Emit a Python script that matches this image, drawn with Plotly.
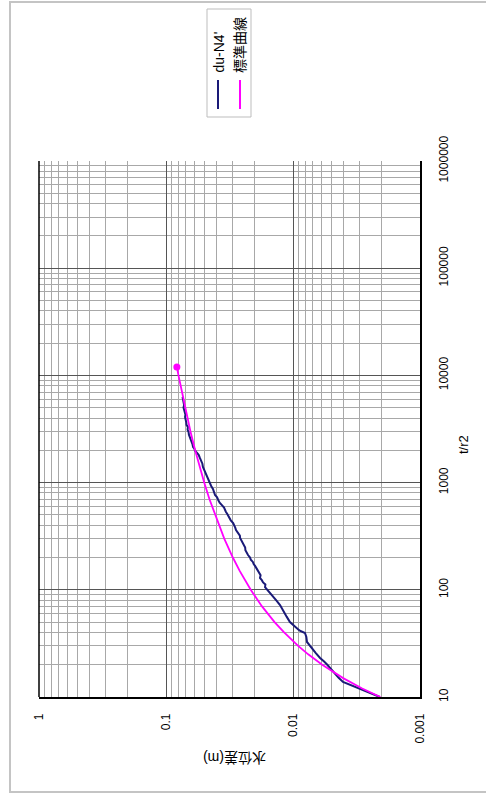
import plotly.graph_objects as go

# ---------------- data ----------------
# observed curve du-N4' : t/r2 and drawdown (m)
obs_t = [10.0, 10.7, 11.4, 11.9, 12.6, 13.2, 13.8, 15.1, 16.4, 17.9, 20.0, 21.4, 23.1,
         25.7, 28.8, 32.6, 36.3, 39.5, 41.7, 44.7, 50.1, 56.2, 63.1, 72.1, 79.4, 87.1,
         93.3, 106, 112, 117, 123, 129, 137, 145, 152, 160, 167, 174, 182, 191, 200,
         211, 222, 234, 248, 263, 282, 304, 320, 339, 360, 380, 400, 420, 445, 468,
         490, 513, 535, 555, 585, 617, 650, 692, 730, 766, 815, 871, 930, 991, 1050,
         1122, 1190, 1259, 1330, 1400, 1500, 1585, 1700, 1807, 1900, 1995, 2070, 2148,
         2270, 2399, 2530, 2661, 2800, 2951, 3100, 3311, 3450, 3631, 3850, 4093, 4300,
         4467, 4750, 5012, 5300, 5623, 5950, 6295]
obs_s = [0.00207, 0.00240, 0.00269, 0.00297, 0.00339, 0.00372, 0.00404, 0.00437, 0.00462,
         0.00493, 0.00537, 0.00569, 0.00612, 0.00661, 0.00716, 0.00776, 0.00785, 0.00805,
         0.00891, 0.00955, 0.01057, 0.01122, 0.01189, 0.01265, 0.01349, 0.01445, 0.01517,
         0.0166, 0.0165, 0.0172, 0.0176, 0.0182, 0.0180, 0.0185, 0.0190, 0.0192, 0.0199,
         0.0204, 0.0207, 0.0215, 0.0218, 0.0226, 0.0231, 0.0237, 0.0238, 0.0245, 0.0254,
         0.0261, 0.0262, 0.0272, 0.0281, 0.0285, 0.0292, 0.0296, 0.0309, 0.0316, 0.0319,
         0.0330, 0.0338, 0.0343, 0.0349, 0.0363, 0.0378, 0.0389, 0.0396, 0.0411, 0.0416,
         0.0427, 0.0441, 0.0451, 0.0458, 0.0473, 0.0480, 0.0495, 0.0499, 0.0512, 0.0517,
         0.0531, 0.0541, 0.0552, 0.0575, 0.0592, 0.0598, 0.0612, 0.0618, 0.0631, 0.0635,
         0.0647, 0.0660, 0.0664, 0.0676, 0.0673, 0.0690, 0.0692, 0.0700, 0.0708, 0.0703,
         0.0711, 0.0725, 0.0728, 0.0720, 0.0724, 0.0738, 0.0741]

# standard (type) curve
std_t = [10, 12, 15, 20, 25, 30, 40, 50, 70, 100, 150, 200, 300, 500, 700, 1000, 1500,
         2000, 3000, 5000, 7000, 10000, 12000]
std_s = [0.00205, 0.00285, 0.00403, 0.00589, 0.00759, 0.00911, 0.01175, 0.01397, 0.01754,
         0.02152, 0.02629, 0.02977, 0.03478, 0.0412, 0.04547, 0.05003, 0.05524, 0.05895,
         0.06418, 0.07078, 0.07514, 0.07976, 0.08211]

t_ticks = [10, 100, 1000, 10000, 100000, 1000000]
t_tick_labels = ["10", "100", "1000", "10000", "100000", "1000000"]
s_ticks = [1, 0.1, 0.01, 0.001]
s_tick_labels = ["1", "0.1", "0.01", "0.001"]

series_names = ["du-N4'", "標準曲線"]
series_colors = ["#1a1a78", "#ff00ff"]

x_title = "t/r2"
y_title = "水位差(m)"

# ---------------- layout helpers ----------------
W, H = 486, 794
L, R, T, B = 39, 420, 161, 697


def px(x, y):
    return (x - L) / (R - L), (B - y) / (B - T)


FONT = "Liberation Sans, Arial, Noto Sans CJK JP, sans-serif"

minor_t = [k * 10 ** n for n in range(1, 6) for k in range(2, 10)]
minor_s = [k * 10 ** n for n in range(-3, 0) for k in range(2, 10)]

fig = go.Figure()
fig.add_trace(go.Scatter(x=obs_s, y=obs_t, mode="lines",
                         line=dict(color=series_colors[0], width=2),
                         name=series_names[0], showlegend=False))
fig.add_trace(go.Scatter(x=std_s, y=std_t, mode="lines",
                         line=dict(color=series_colors[1], width=1.8),
                         name=series_names[1], showlegend=False))
fig.add_trace(go.Scatter(x=[std_s[-1]], y=[std_t[-1]], mode="markers",
                         marker=dict(color=series_colors[1], size=7),
                         showlegend=False, hoverinfo="skip"))

fig.update_xaxes(type="log", range=[0, -3], tickvals=s_ticks, ticktext=s_tick_labels,
                 tickangle=-90, showgrid=True, gridcolor="#555555", gridwidth=1,
                 minor=dict(tickvals=minor_s, showgrid=True, gridcolor="#a8a8a8", gridwidth=1),
                 showline=True, linecolor="#000000", linewidth=1.5, ticks="",
                 ticklabelstandoff=10, zeroline=False, automargin=False,
                 tickfont=dict(family=FONT, size=12, color="#000"))
fig.update_yaxes(type="log", range=[1, 6], side="right", tickvals=t_ticks,
                 ticktext=t_tick_labels, tickangle=-90, showgrid=True,
                 gridcolor="#555555", gridwidth=1,
                 minor=dict(tickvals=minor_t, showgrid=True, gridcolor="#a8a8a8", gridwidth=1),
                 showline=True, linecolor="#000000", linewidth=1.5, ticks="",
                 ticklabelstandoff=12, zeroline=False, automargin=False,
                 tickfont=dict(family=FONT, size=12, color="#000"))

shapes = []
# outer frame
x0, y0 = px(10, 792)
x1, y1 = px(488, 2)
shapes.append(dict(type="rect", xref="paper", yref="paper", x0=x0, y0=y0, x1=x1, y1=y1,
                   line=dict(color="#c4c4c4", width=2), layer="below"))
# left plot border
shapes.append(dict(type="line", xref="paper", yref="paper", x0=0, x1=0, y0=0, y1=1,
                   line=dict(color="#000", width=1.5)))
# legend box
lx0, ly0 = px(207, 117)
lx1, ly1 = px(251, 9)
shapes.append(dict(type="rect", xref="paper", yref="paper", x0=lx0, y0=ly0, x1=lx1, y1=ly1,
                   line=dict(color="#bdbdbd", width=1), fillcolor="white"))
annotations = []
for name, color, xc in zip(series_names, series_colors, [218, 240]):
    ax0, ay0 = px(xc, 109)
    ax1, ay1 = px(xc, 80)
    shapes.append(dict(type="line", xref="paper", yref="paper", x0=ax0, x1=ax1, y0=ay0, y1=ay1,
                       line=dict(color=color, width=2)))
    tx, ty = px(xc, 75)
    annotations.append(dict(text=name, xref="paper", yref="paper", x=tx, y=ty,
                            xanchor="center", yanchor="bottom", textangle=-90,
                            showarrow=False, font=dict(family=FONT, size=14, color="#000")))

# axis titles
tx, ty = px(463, 445)
annotations.append(dict(text=x_title, xref="paper", yref="paper", x=tx, y=ty,
                        xanchor="center", yanchor="middle", textangle=-90, showarrow=False,
                        font=dict(family=FONT, size=13, color="#000")))
tx, ty = px(235, 758)
annotations.append(dict(text=y_title, xref="paper", yref="paper", x=tx, y=ty,
                        xanchor="center", yanchor="middle", textangle=180, showarrow=False,
                        font=dict(family=FONT, size=14, color="#000")))

fig.update_layout(width=W, height=H, margin=dict(l=L, r=W - R, t=T, b=H - B),
                  paper_bgcolor="white", plot_bgcolor="white", shapes=shapes,
                  annotations=annotations, showlegend=False)

fig.write_html("out.html", config={"displayModeBar": False},
               post_script="document.body.style.margin='0';")
